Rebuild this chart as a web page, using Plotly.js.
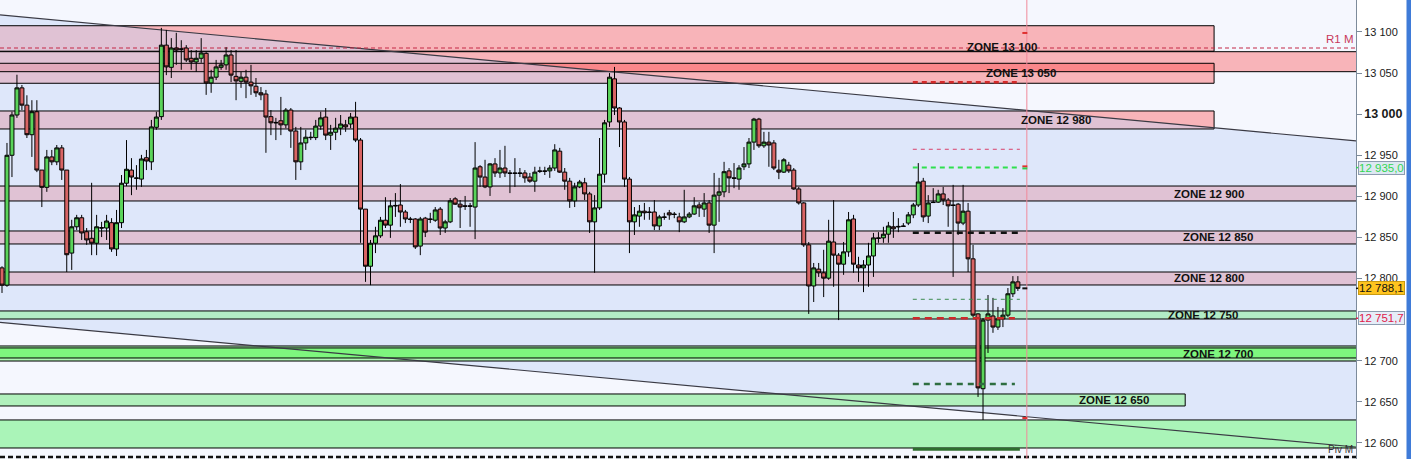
<!DOCTYPE html>
<html>
<head>
<meta charset="utf-8">
<script src="https://cdn.plot.ly/plotly-3.0.1.min.js"></script>
<style>
html,body{margin:0;padding:0;background:#fff;}
#chart{width:1411px;height:459px;}
</style>
</head>
<body>
<div id="chart"></div>
<script>
// ---------------- DATA ----------------
const candleOpen = [
12813,12792,12950,12999,13032,13011,12975,13003,12932,12911,
12948,12942,12959,12932,12831,12863,12874,12857,12849,12843,
12862,12861.5,12868,12836,12868,12916,12932,12922.5,12921,12947,
12942,12984,12997,13084,13057,13080.5,13079.5,13080.5,13068,13063.5,
13068,13074,13038,13045,13057,13060,13072,13046,13040,13045,
13039,13034,13026,13024.5,12997,12990,12992,12987,13005,12979.5,
12942,12965,12972,12971.5,12985.5,12996.5,12974.5,12978,12983,12987,
12988,12996.5,12968.5,12884.5,12815,12843,12852,12871,12865,12889,
12889.5,12881,12872.5,12872.5,12839.5,12873.5,12872.5,12871,12884.5,12861.5,
12869,12897,12890.5,12888.5,12888.5,12887,12936,12923.5,12911.5,12939.5,
12928.5,12934.5,12928.5,12928.5,12928.5,12928.5,12923.5,12918.5,12931,12931,
12931,12934.5,12955,12929.5,12918.5,12894.5,12911.5,12916.5,12903,12869,
12886,12927,12990.5,13043,13007.5,12990.5,12921,12869,12876,12882,
12881,12881,12864,12875,12880,12878.5,12875,12869,12875,12878.5,
12889.5,12884.5,12892,12865,12901.5,12905.5,12931,12922.5,12921,12936,
12939.5,12966,12994,12961.5,12966,12965,12932,12929.5,12938,12932,
12909,12892,12841,12791,12811.5,12807,12800.5,12844.5,12828.5,12817.5,
12832.5,12872.5,12816.5,12813,12816.5,12827.5,12849.5,12849.5,12854,12863,
12863.5,12864,12867.5,12877.5,12889.5,12918.5,12876,12893,12893,12903,
12895.5,12889.5,12890.5,12867.5,12882,12824,12757,12666,12749.5,12754.5,
12741,12751,12755.5,12781.5,12796
];
const candleClose = [
12792,12950,12999,13032,13011,12975,13003,12932,12911,12948,
12942,12959,12932,12829,12863,12874,12855.5,12847,12843,12863,
12861.5,12870,12836,12868,12916,12933,12923.5,12922,12945.5,12943,
12984.5,12996.5,13084,13057.5,13080.5,13078,13079,13066,13063.5,13068,
13074.5,13038,13045,13057.5,13060,13072,13047.5,13040.5,13045,13039,
13034.5,13026,13023.5,12996.5,12989.5,12989.5,12987,13005,12979.5,12942,
12965,12972,12971.5,12985.5,12995.5,12974.5,12978,12983,12988,12984.5,
12996.5,12968.5,12884.5,12815,12843,12852,12871,12865,12888.5,12888.5,
12881,12872.5,12872,12838.5,12872.5,12856.5,12872,12883.5,12861.5,12869,
12894.5,12890.5,12887,12888,12888,12934.5,12923.5,12911.5,12939.5,12928.5,
12934.5,12928.5,12928,12928,12928,12922.5,12918.5,12929.5,12930.5,12930.5,
12934.5,12956.5,12929.5,12918.5,12894.5,12911.5,12917.5,12903,12869,12886,
12927,12989.5,13045,13007.5,12990.5,12921,12869,12877.5,12882,12880,
12880.5,12864,12875,12874.5,12877.5,12878,12869,12875,12878.5,12888.5,
12886,12892,12865,12901.5,12905.5,12930,12922.5,12922,12934.5,12939.5,
12966,12994,12961.5,12966,12962.5,12934.5,12929.5,12944.5,12931,12909,
12892,12841,12791,12813,12807,12800.5,12845.5,12828.5,12817.5,12832.5,
12871.5,12817.5,12813,12816.5,12827.5,12849.5,12849,12854,12864,12860.5,
12863,12863.5,12877.5,12889.5,12917.5,12875,12892,12892.5,12903,12895.5,
12888.5,12889,12867.5,12882,12824,12755.5,12667,12749.5,12757,12741,
12751,12755.5,12781.5,12796,12788.1
];
const candleHigh = [
12815,12965,13003,13048,13035.5,13023,13017,13017,12932,12956.5,
12956.5,12962.5,12962.5,12932,12871.5,12877.5,12877.5,12861.5,12916.5,12877.5,
12869,12877.5,12873.5,12883.5,12926,12968.5,12946.5,12938,12950.5,12956.5,
12993,13003,13105,13102.5,13092.5,13099,13090,13084,13078,13078,
13092.5,13075.5,13054,13066,13066,13081.5,13078,13078,13051.5,13054,
13060,13044,13033,13029.5,13005,12995.5,13021,13007.5,13007.5,12984.5,
12984.5,12981,12978.5,12993,13003,13007.5,12987,12995.5,12999,12993,
13001.5,13015,12971,12884.5,12847,12863,12875,12899,12895.5,12904,
12915,12883.5,12875,12873.5,12875,12875,12880,12887,12887,12871.5,
12898,12899,12895.5,12900.5,12892,12966,12938,12944.5,12940.5,12946.5,
12956.5,12961.5,12932,12946.5,12934.5,12932,12928.5,12936,12936,12936,
12938,12963.5,12959,12934.5,12922.5,12916.5,12920,12922.5,12905.5,12901.5,
12971,12993,13050,13057.5,13008.5,12993,12923.5,12887,12889.5,12892,
12887,12895.5,12877.5,12880,12883.5,12881,12880,12908,12881,12899,
12893,12904,12895.5,12928.5,12922.5,12942,12934.5,12940.5,12938,12960,
12971,12995.5,12995.5,12978.5,12978.5,12968.5,12944.5,12946.5,12942,12934.5,
12911.5,12893,12844.5,12819,12819,12835,12871.5,12895.5,12831,12844.5,
12881,12877.5,12826.5,12822.5,12843.5,12855.5,12856.5,12863,12869,12881,
12873.5,12867.5,12881,12892,12940.5,12922.5,12901.5,12910,12908,12911.5,
12898,12914,12892,12914,12892,12841,12758,12752,12780,12776.5,
12765.5,12764,12788.5,12803,12803
];
const candleLow = [
12782.5,12790,12923.5,12995.5,13005,12971,12948,12929.5,12887,12905.5,
12938,12938,12920,12808,12810.5,12859,12847,12841,12828.5,12828.5,
12850.5,12847,12832.5,12827.5,12861.5,12912.5,12901.5,12908,12911.5,12932,
12932,12981,12993,13047.5,13044,13060,13054,13063.5,13054,13051.5,
13062.5,13023.5,13026,13041.5,13054,13054,13039,13017,13032,13019.5,
13023.5,13021,13017,12953,12974.5,12968.5,12974.5,12983,12959,12920,
12932,12956.5,12968.5,12968.5,12981,12968.5,12956.5,12968.5,12974.5,12978.5,
12983,12966,12843.5,12796,12792,12831,12849.5,12861.5,12849.5,12875,
12863,12867.5,12867.5,12836,12828.5,12850.5,12867.5,12869,12853,12855.5,
12867.5,12889.5,12861.5,12883.5,12863,12848,12911.5,12910,12900.5,12923.5,
12922.5,12923.5,12904,12911.5,12923.5,12916.5,12916.5,12905.5,12928.5,12926,
12922.5,12931,12928.5,12908,12886,12887,12910,12895.5,12855.5,12807,
12883.5,12916.5,12984.5,12999,12960,12911.5,12831,12853,12863,12871.5,
12871.5,12859,12859,12871.5,12871.5,12873.5,12856.5,12867.5,12873.5,12877.5,
12875,12875,12855.5,12831,12869,12899,12904,12910,12908,12932,
12934.5,12956.5,12959,12959,12936,12932,12921,12928.5,12928.5,12908,
12890,12838.5,12757,12771.5,12802,12777.5,12798.5,12790,12749.5,12804.5,
12826.5,12807,12796,12783.5,12790,12802,12843.5,12843.5,12843.5,12849.5,
12856.5,12863,12865,12873.5,12887,12869,12867.5,12892,12892,12889.5,
12863,12802,12853,12865,12808,12753,12656,12628,12709.5,12734,
12737.5,12741,12753,12777.5,12785
];

// the 12 750 tick label is fully hidden behind the last-price tag in the original
const tickVals = [12600,12650,12700,12800,12850,12900,12950,13000,13050,13100];
const tickText = ['12 600','12 650','12 700','12 800','12 850','12 900','12 950','13 000','13 050','13 100'];

const zoneNames  = ['ZONE 13 100','ZONE 13 050','ZONE 12 980','ZONE 12 900','ZONE 12 850','ZONE 12 800','ZONE 12 750','ZONE 12 700','ZONE 12 650'];
const zoneTop    = [13107.6,13061.9,13003.9,12912.6,12857.9,12808.0,12760.6,12718.0,12659.6];
const zoneBottom = [13076.6,13037.6,12982.0,12894.4,12842.1,12792.2,12750.8,12699.7,12645.0];

const pivotBand   = [13076.0, 13051.7];
const supportBand = [12628.0, 12593.9];
const zone12700Core = [12715.6, 12703.4];

const channelUpper = [13120.7, 12967.4];
const channelLower = [12746.8, 12595.1];

const r1Level  = 13080.5;
const pivLevel = 12583.0;
const rightLevels = [13038.8, 12957.3, 12935.0, 12855.8, 12774.8, 12751.7, 12671.8, 12592.3];

const tagPrices = [12935.0, 12788.1, 12751.7];
const tagTexts  = ['12 935,0', '12 788,1', '12 751,7'];

// ---------------- LAYOUT CONFIG (positions / styles) ----------------
const X0 = -0.402, X1 = 271.9;
const ZONE_END = 243.4, Z650_END = 237.6;
const LV_START = 182.9;
const NOW_X = 205.8;
const FONT = 'Liberation Sans, Arial, sans-serif';
const PINK = 'rgba(255,40,40,0.32)';

const zoneStyle = [
  {x1: ZONE_END, fill: PINK, top: false},
  {x1: ZONE_END, fill: PINK, top: false},
  {x1: ZONE_END, fill: PINK, top: false},
  {x1: X1 + 5,   fill: PINK, top: false},
  {x1: X1 + 5,   fill: PINK, top: false},
  {x1: X1 + 5,   fill: PINK, top: false},
  {x1: X1 + 5,   fill: '#b2ecc6', top: true},
  {x1: X1 + 5,   fill: '#aef2b2', top: true},
  {x1: Z650_END, fill: '#b0f0bc', top: true}
];
const labelX = [200.8, 204.6, 211.6, 242.4, 244.2, 242.4, 241.2, 244.2, 223.3];
const labelShift = [-9, 0, 0, 0, 0, 0, 0, 0, 0];

const levelStyle = [
  {color: '#d42a2a', width: 2.5, dash: '5px,4px', x1: 204.0},
  {color: '#d8406a', width: 1,   dash: '4px,4px', x1: 204.4},
  {color: '#2fe04f', width: 2,   dash: '5px,4px', x1: 204.4},
  {color: '#111111', width: 2.5, dash: '6px,5px', x1: 204.4},
  {color: '#3c8c50', width: 1,   dash: '4px,4px', x1: 204.4},
  {color: '#cc2a2a', width: 2.5, dash: '7px,5px', x1: 203.4},
  {color: '#2e6e40', width: 2.5, dash: '6px,5px', x1: 203.4},
  {color: '#2e6e2e', width: 3,   dash: 'solid',   x1: 204.4}
];
const tagStyle = [
  {bg: '#dde8f2', border: '#8c9cb0', color: '#33d653'},
  {bg: '#ffc41f', border: '#c89a10', color: '#111111'},
  {bg: '#e6edf8', border: '#8c9cb0', color: '#e0204a'}
];

// ---------------- BUILD ----------------
const idx = candleOpen.map((_, i) => i);

const trace = {
  type: 'candlestick',
  x: idx,
  open: candleOpen, high: candleHigh, low: candleLow, close: candleClose,
  increasing: {line: {color: '#000', width: 1}, fillcolor: '#5ad45a'},
  decreasing: {line: {color: '#000', width: 1}, fillcolor: '#d86464'},
  whiskerwidth: 0,
  hoverinfo: 'skip',
  showlegend: false
};

const shapes = [];
function rectFill(y0, y1, x1, fill) {
  shapes.push({type: 'rect', xref: 'x', yref: 'y', x0: X0 - 5, x1: x1, y0: y0, y1: y1,
    fillcolor: fill, line: {width: 0}, layer: 'below'});
}
function rectLine(y0, y1, x1) {
  shapes.push({type: 'rect', xref: 'x', yref: 'y', x0: X0 - 5, x1: x1, y0: y0, y1: y1,
    fillcolor: 'rgba(0,0,0,0)', line: {color: '#000', width: 1}, layer: 'below'});
}

rectFill(zoneBottom[0], zoneTop[0], zoneStyle[0].x1, zoneStyle[0].fill);
rectFill(pivotBand[1], pivotBand[0], X1 + 5, PINK);
for (let i = 1; i < zoneNames.length; i++) {
  if (!zoneStyle[i].top) rectFill(zoneBottom[i], zoneTop[i], zoneStyle[i].x1, zoneStyle[i].fill);
}

shapes.push({type: 'path', xref: 'x', yref: 'y',
  path: `M ${X0},${channelUpper[0]} L ${X1},${channelUpper[1]} L ${X1},${channelLower[1]} L ${X0},${channelLower[0]} Z`,
  fillcolor: 'rgba(195,210,246,0.45)', line: {width: 0}, layer: 'below'});

for (let i = 0; i < zoneNames.length; i++) {
  if (zoneStyle[i].top) rectFill(zoneBottom[i], zoneTop[i], zoneStyle[i].x1, zoneStyle[i].fill);
}
rectFill(zone12700Core[1], zone12700Core[0], X1 + 5, '#7ef67e');
rectFill(supportBand[1], supportBand[0], X1 + 5, '#aaf4b8');

rectLine(zoneBottom[0], zoneTop[0], zoneStyle[0].x1);
rectLine(pivotBand[1], pivotBand[0], X1 + 5);
for (let i = 1; i < zoneNames.length; i++) rectLine(zoneBottom[i], zoneTop[i], zoneStyle[i].x1);
rectLine(zone12700Core[1], zone12700Core[0], X1 + 5);
rectLine(supportBand[1], supportBand[0], X1 + 5);

shapes.push({type: 'line', xref: 'x', yref: 'y', x0: X0, x1: X1, y0: channelUpper[0], y1: channelUpper[1],
  line: {color: '#3a3a44', width: 1.2}, layer: 'below'});
shapes.push({type: 'line', xref: 'x', yref: 'y', x0: X0, x1: X1, y0: channelLower[0], y1: channelLower[1],
  line: {color: '#3a3a44', width: 1.2}, layer: 'below'});

shapes.push({type: 'line', xref: 'x', yref: 'y', x0: X0, x1: X1, y0: r1Level, y1: r1Level,
  line: {color: '#c42846', width: 1.2, dash: '4px,3px'}, layer: 'below'});
shapes.push({type: 'line', xref: 'x', yref: 'y', x0: X0, x1: X1, y0: pivLevel, y1: pivLevel,
  line: {color: '#111', width: 2.5, dash: '5px,3px'}, layer: 'below'});

rightLevels.forEach((p, i) => {
  const s = levelStyle[i];
  shapes.push({type: 'line', xref: 'x', yref: 'y', x0: LV_START, x1: s.x1, y0: p, y1: p,
    line: {color: s.color, width: s.width, dash: s.dash}, layer: 'above'});
});

shapes.push({type: 'line', xref: 'x', yref: 'paper', x0: NOW_X, x1: NOW_X, y0: 0, y1: 1,
  line: {color: '#f08a9a', width: 1}, layer: 'above'});

[[13098.8, '#e03030'], [12936.5, '#e03030'], [12934.0, '#30d050'], [12788.1, '#111'], [12630.4, '#e03030']].forEach(m => {
  shapes.push({type: 'line', xref: 'x', yref: 'y', x0: 204.9, x1: 205.9, y0: m[0], y1: m[0],
    line: {color: m[1], width: 2}, layer: 'above'});
});

tagPrices.forEach((p, i) => {
  shapes.push({type: 'line', xref: 'paper', yref: 'y', x0: 1.0, x1: 1.0037, y0: p, y1: p,
    line: {color: tagStyle[i].color, width: 1.5}, layer: 'above'});
});

shapes.push({type: 'rect', xref: 'paper', yref: 'paper', x0: 1406.5 / 1356, x1: 1412 / 1356, y0: 0, y1: 1,
  fillcolor: '#3f7bd8', line: {width: 0}, layer: 'above'});

const annotations = [];
zoneNames.forEach((name, i) => {
  annotations.push({xref: 'x', yref: 'y', x: labelX[i], y: (zoneTop[i] + zoneBottom[i]) / 2,
    yshift: labelShift[i], text: '<b>' + name + '</b>', showarrow: false,
    xanchor: 'center', yanchor: 'middle',
    font: {family: FONT, size: 11.5, color: '#111'}});
});
annotations.push({xref: 'paper', yref: 'y', x: 1, xshift: -1, y: r1Level, yshift: 1, yanchor: 'bottom', xanchor: 'right',
  text: 'R1 M', showarrow: false, font: {family: FONT, size: 11.5, color: '#c8385a'}});
annotations.push({xref: 'paper', yref: 'y', x: 1, xshift: -1, y: pivLevel, yshift: 0, yanchor: 'bottom', xanchor: 'right',
  text: 'Piv M', showarrow: false, font: {family: FONT, size: 10, color: '#333'}});
tagPrices.forEach((p, i) => {
  const s = tagStyle[i];
  annotations.push({xref: 'paper', yref: 'y', x: 1, xshift: 2, y: p, xanchor: 'left', yanchor: 'middle',
    text: tagTexts[i], showarrow: false, bgcolor: s.bg, bordercolor: s.border, borderwidth: 1, borderpad: 0,
    font: {family: FONT, size: 11.5, color: s.color}});
});

const layout = {
  width: 1411, height: 459,
  margin: {l: 0, r: 55, t: 0, b: 0, pad: 0},
  paper_bgcolor: '#ffffff',
  plot_bgcolor: '#f5f7fe',
  showlegend: false,
  boxgap: 0.2,
  boxgroupgap: 0,
  xaxis: {range: [X0, X1], showgrid: false, zeroline: false, showticklabels: false, ticks: '',
    showline: false, rangeslider: {visible: false}, fixedrange: true},
  yaxis: {side: 'right', range: [12580.5, 13138.9], tickmode: 'array', tickvals: tickVals,
    ticktext: tickText.map(t => t === '13 000' ? '<b><span style="font-size:12.5px">' + t + '</span></b>' : t),
    ticks: 'outside', ticklen: 5, tickcolor: '#7d8b9b', showline: true, linecolor: '#7d8b9b', linewidth: 1,
    showgrid: false, zeroline: false, fixedrange: true,
    tickfont: {family: FONT, size: 11, color: '#1a1a1a'}},
  shapes: shapes,
  annotations: annotations
};

Plotly.newPlot('chart', [trace], layout, {displayModeBar: false, staticPlot: true});
</script>
</body>
</html>
